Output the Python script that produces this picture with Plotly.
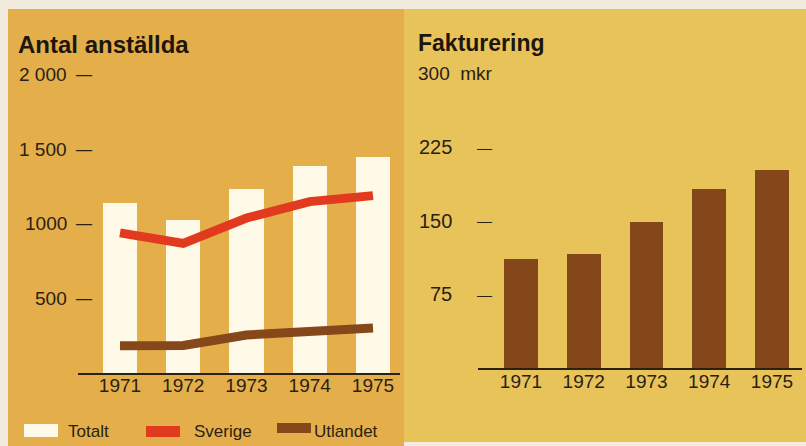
import plotly.graph_objects as go

# ---------------- data ----------------
years = [1971, 1972, 1973, 1974, 1975]
year_labels = ["1971", "1972", "1973", "1974", "1975"]
totalt = [1140, 1025, 1235, 1390, 1450]
sverige = [940, 870, 1040, 1150, 1190]
utlandet = [182, 185, 255, 282, 302]
fakturering = [111, 116, 149, 182, 202]

left_ticks = [500, 1000, 1500, 2000]
left_ticktext = ["500", "1000", "1 500", "2 000"]
right_ticks = [75, 150, 225]
right_ticktext = ["75", "150", "225"]
right_top = 300
right_top_text = "300  mkr"

title_left = "Antal anställda"
title_right = "Fakturering"
legend_names = ["Totalt", "Sverige", "Utlandet"]

# ---------------- styling ----------------
W, H = 806, 446
FONT = "Liberation Sans, Arial, sans-serif"
ORANGE = "#E4AF4A"
YELLOW = "#E8C35A"
CREAM = "#F1ECDD"
WHITE_BAR = "#FFF9E8"
RED = "#E23A1E"
BROWN = "#86481A"
BROWN_BAR = "#83471A"
INK = "#2A2114"


def px(x):
    return x / W


def py(y):
    return 1 - y / H


fig = go.Figure()

fig.add_trace(go.Bar(x=years, y=totalt, width=0.54, marker=dict(color=WHITE_BAR, line=dict(width=0)),
                     xaxis="x", yaxis="y", name=legend_names[0], showlegend=False))
fig.add_trace(go.Scatter(x=years, y=sverige, mode="lines", line=dict(color=RED, width=9),
                         xaxis="x", yaxis="y", name=legend_names[1], showlegend=False))
fig.add_trace(go.Scatter(x=years, y=utlandet, mode="lines", line=dict(color=BROWN, width=9),
                         xaxis="x", yaxis="y", name=legend_names[2], showlegend=False))
fig.add_trace(go.Bar(x=years, y=fakturering, width=0.54, marker=dict(color=BROWN_BAR, line=dict(width=0)),
                     xaxis="x2", yaxis="y2", name=title_right, showlegend=False))

axis_common = dict(showgrid=False, zeroline=False, ticks="", fixedrange=True)

fig.update_layout(
    width=W, height=H,
    margin=dict(l=0, r=0, t=0, b=0),
    paper_bgcolor=CREAM,
    plot_bgcolor="rgba(0,0,0,0)",
    font=dict(family=FONT, color=INK, size=18),
    bargap=0,
    xaxis=dict(domain=[px(78), px(400)], range=[1970.336, 1975.427], anchor="y",
               tickvals=years, ticktext=year_labels, showline=True, linecolor=INK, linewidth=1.5,
               tickfont=dict(size=19, color=INK), ticklabelstandoff=-6, **axis_common),
    yaxis=dict(domain=[py(373), py(60)], range=[0, 2100], anchor="x",
               showticklabels=False, showline=False, **axis_common),
    xaxis2=dict(domain=[px(478), px(802)], range=[1970.315, 1975.478], anchor="y2",
                tickvals=years, ticktext=year_labels, showline=True, linecolor=INK, linewidth=1.5,
                tickfont=dict(size=19, color=INK), ticklabelstandoff=-5, **axis_common),
    yaxis2=dict(domain=[py(368), py(60)], range=[0, 314], anchor="x2",
                showticklabels=False, showline=False, **axis_common),
    showlegend=False,
)

# panel backgrounds
fig.add_shape(type="rect", xref="paper", yref="paper", x0=px(8), x1=px(404), y0=0, y1=py(9),
              fillcolor=ORANGE, line=dict(width=0), layer="below")
fig.add_shape(type="rect", xref="paper", yref="paper", x0=px(404), x1=1, y0=py(442), y1=py(9),
              fillcolor=YELLOW, line=dict(width=0), layer="below")

ann = []
# titles
ann.append(dict(text="<b>" + title_left + "</b>", xref="paper", yref="paper", x=px(16), y=py(45),
                xanchor="left", yanchor="middle", showarrow=False, font=dict(size=24, color="#1C160E")))
ann.append(dict(text="<b>" + title_right + "</b>", xref="paper", yref="paper", x=px(416), y=py(43),
                xanchor="left", yanchor="middle", showarrow=False, font=dict(size=23, color="#1C160E")))
# left y tick labels
for v, t in zip(left_ticks, left_ticktext):
    ann.append(dict(text=t, xref="paper", yref="y", x=px(69), y=v, xanchor="right", yanchor="middle",
                    showarrow=False, font=dict(size=19, color=INK)))
    ann.append(dict(text="—", xref="paper", yref="y", x=px(84), y=v, xanchor="center", yanchor="middle",
                    showarrow=False, font=dict(size=16, color=INK)))
# right y tick labels
for v, t in zip(right_ticks, right_ticktext):
    ann.append(dict(text=t, xref="paper", yref="y2", x=px(454), y=v, xanchor="right", yanchor="middle",
                    showarrow=False, font=dict(size=20, color=INK)))
    ann.append(dict(text="—", xref="paper", yref="y2", x=px(484), y=v, xanchor="center", yanchor="middle",
                    showarrow=False, font=dict(size=15, color=INK)))
ann.append(dict(text=right_top_text, xref="paper", yref="y2", x=px(416), y=right_top, xanchor="left",
                yanchor="middle", showarrow=False, font=dict(size=19, color=INK)))

# manual legend
legend_items = [
    (legend_names[0], WHITE_BAR, 24, 58, 424, 437, 66),
    (legend_names[1], RED, 146, 180, 426, 437, 192),
    (legend_names[2], BROWN, 277, 311, 423, 433, 312),
]
for name, col, x0, x1, y0, y1, tx in legend_items:
    fig.add_shape(type="rect", xref="paper", yref="paper", x0=px(x0), x1=px(x1), y0=py(y1), y1=py(y0),
                  fillcolor=col, line=dict(width=0))
    ann.append(dict(text=name, xref="paper", yref="paper", x=px(tx), y=py(431), xanchor="left",
                    yanchor="middle", showarrow=False, font=dict(size=17, color=INK)))

fig.update_layout(annotations=ann)

fig.write_html("out.html", config={"displayModeBar": False},
               post_script="document.body.style.margin='0';document.body.style.overflow='hidden';")
